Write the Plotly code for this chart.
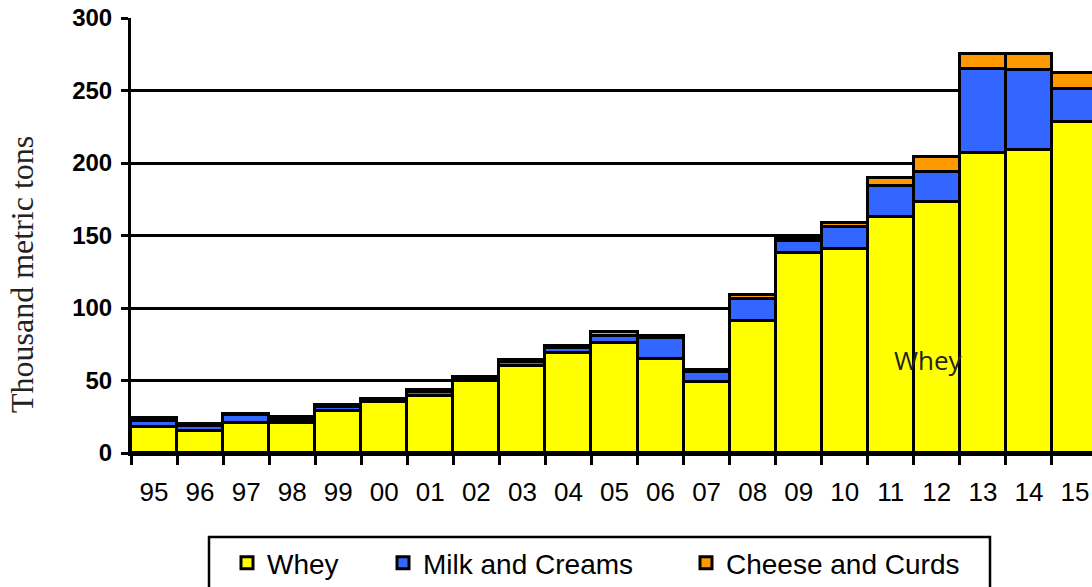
import plotly.graph_objects as go

# Dairy product imports, thousand metric tons, by year
years = ['95', '96', '97', '98', '99', '00', '01', '02', '03', '04', '05',
         '06', '07', '08', '09', '10', '11', '12', '13', '14', '15']
whey = [18, 15, 21, 21, 29, 35, 39, 50, 60, 69, 76,
        65, 49, 91, 138, 141, 163, 173, 207, 209, 228]
milk_creams = [4, 3.5, 5, 2, 3, 1, 3, 1, 2.5, 3.5, 5,
               14, 7, 15, 8, 15, 21, 21, 58, 55, 23]
cheese_curds = [2, 1.5, 1, 1.5, 1, 1, 1.5, 1.5, 1.5, 1.5, 2.5,
                1.5, 1.5, 3, 2.5, 2.5, 5.5, 10, 10, 11, 11]
y_ticks = [0, 50, 100, 150, 200, 250, 300]

W, H = 1092, 587
L, R, T, B = 131, 0, 18, 134
PW, PH = W - L - R, H - T - B


def px_x(p):
    return (p - L) / PW


def px_y(p):
    return (H - B - p) / PH


series = [
    ('Whey', whey, '#FFFF00', 'legend'),
    ('Milk and Creams', milk_creams, '#3366FF', 'legend2'),
    ('Cheese and Curds', cheese_curds, '#FF9900', 'legend3'),
]

fig = go.Figure()
for name, vals, color, leg in series:
    fig.add_trace(go.Bar(
        x=years, y=vals, name=name, legend=leg, showlegend=True,
        marker=dict(color=color, line=dict(color='black', width=3)),
    ))

legend_font = dict(family='Arial, Liberation Sans', size=28, color='black')
legend_common = dict(orientation='h', xanchor='left', yanchor='middle',
                     y=px_y(563), bgcolor='rgba(0,0,0,0)', borderwidth=0,
                     font=legend_font, visible=True)

fig.update_layout(
    width=W, height=H,
    showlegend=True,
    margin=dict(l=L, r=R, t=T, b=B, autoexpand=False),
    paper_bgcolor='white', plot_bgcolor='white',
    barmode='stack', bargap=0,
    legend=dict(x=px_x(268 - 41), **legend_common),
    legend2=dict(x=px_x(424 - 41), **legend_common),
    legend3=dict(x=px_x(727 - 41), **legend_common),
    xaxis=dict(
        type='category', range=[-0.5, 20.37],
        tickson='boundaries', ticks='outside', ticklen=9, tickwidth=3,
        tickcolor='black', showgrid=False, showline=True, linecolor='black',
        linewidth=3, ticklabelstandoff=14,
        tickfont=dict(family='Arial, Liberation Sans', size=26, color='black'),
    ),
    yaxis=dict(
        range=[0, 300], tickvals=y_ticks, ticks='outside', ticklen=7,
        tickwidth=3, tickcolor='black', showgrid=True, gridcolor='black',
        gridwidth=3, showline=True, linecolor='black', linewidth=3,
        zeroline=False, ticklabelstandoff=4,
        tickfont=dict(family='Arial, Liberation Sans', size=24,
                      color='black', weight='bold'),
    ),
    annotations=[
        dict(text='Thousand metric tons', textangle=-90, xref='paper',
             yref='paper', x=px_x(22), y=px_y(275), xanchor='center',
             yanchor='middle', showarrow=False,
             font=dict(family='Times New Roman, Liberation Serif', size=32,
                       color='#222222')),
        dict(text='Whey', xref='x', yref='y', x=16.83, y=64, showarrow=False,
             font=dict(family='Open Sans', size=26, color='#222222')),
    ],
    shapes=[
        dict(type='rect', xref='paper', yref='paper',
             x0=px_x(209), x1=px_x(990), y0=px_y(537), y1=px_y(610),
             line=dict(color='black', width=2.5), fillcolor='rgba(0,0,0,0)',
             layer='above'),
    ],
)

fig.write_html('out.html')
